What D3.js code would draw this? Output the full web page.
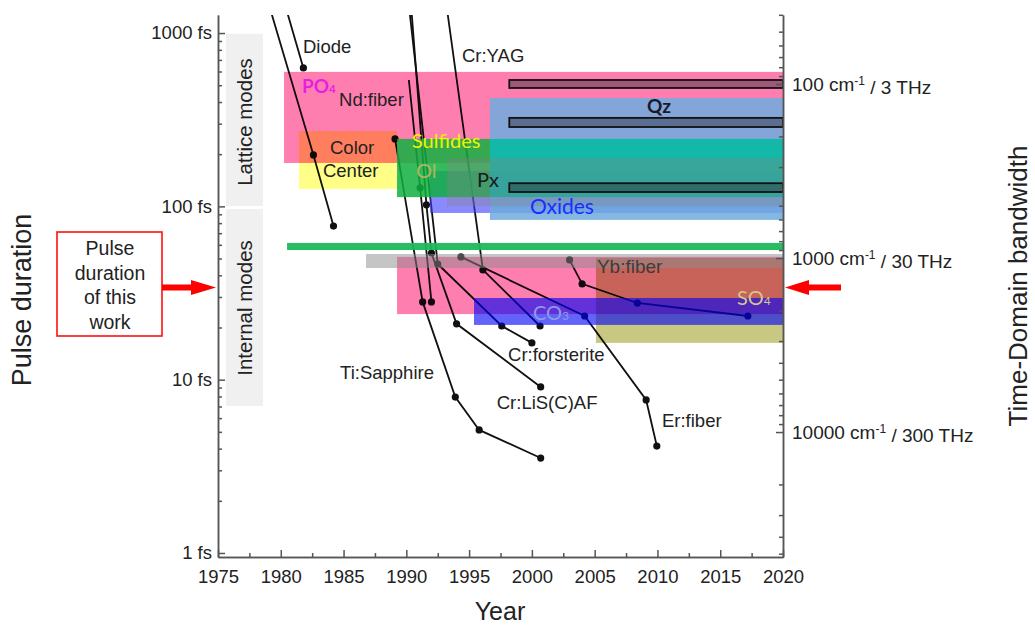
<!DOCTYPE html>
<html>
<head>
<meta charset="utf-8">
<script src="https://cdn.jsdelivr.net/npm/d3@7"></script>
<style>
body{margin:0;background:#fff}
svg text{font-family:"Liberation Sans",Arial,sans-serif;fill:#222}
.cal{font-family:Lato,"Open Sans",sans-serif}
</style>
</head>
<body>
<svg id="chart" width="1035" height="629"></svg>
<script>
// ---- axis ticks ----
var yearTicks = [1975,1980,1985,1990,1995,2000,2005,2010,2015,2020];
var fsTicks = [1,10,100,1000];
var fsTickLabels = ["1 fs","10 fs","100 fs","1000 fs"];
var wnTicks = [100,1000,10000];
var thzLabels = ["3","30","300"];
var thisWork = 34; // fs

// ---- laser development, [year, pulse duration fs] ----
var diode = [[1979.3,2640],[1981.8,629]];
var colorCenter = [[1978.0,2640],[1982.6,198],[1984.2,77]];
var ndFiber = [[1990.2,536],[1991.1,128],[1992.0,28.1]];
var tiSapphire = [[1989.1,245],[1991.3,28.1],[1993.9,7.94],[1995.8,5.13],[2000.7,3.53]];
var crLiSAF = [[1990.1,2640],[1991.6,102],[1992.0,53.8],[1994.0,21.0],[2000.7,9.08]];
var crForsterite = [[1989.8,2640],[1992.5,46.5],[1997.6,20.4],[2000.0,16.3]];
var crYAG = [[1992.7,2640],[1996.1,43.0],[2000.65,20.4]];
var erFiber = [[1994.35,51.1],[2004.2,23.3],[2009.1,7.64],[2009.95,4.14]];
var ybFiber = [[2003.0,49.1],[2004.0,35.7],[2008.4,27.7],[2017.2,23.3]];

// ---- mode bands, [year from, year to, fs low, fs high] ----
var latticeBand = [1975.64,1978.58,100.5,990];
var internalBand = [1975.64,1978.58,7.05,96.6];
var po4Lattice = [1980.26,2020,178,597];
var colorCenterBox = [1981.45,1989.26,126,272];
var oxides = [1991.88,2020,91.6,160];
var qz = [1996.66,2020,83.5,422];
var sulfidesOl = [1989.26,1996.66,113,245];
var sulfidesQz = [1996.66,2020,113,245];
var px = [1993.24,2020,100,190];
var qzBars = [[1998.2,2020,482,536],[1998.2,2020,287,324],[1998.2,2020,121,136]];
var greenBand = [1980.5,2020,56.0,61.5];
var po4Internal = [1989.26,2020,23.9,51.1];
var so4 = [2005.1,2020,16.3,50.4];
var ybBand = [1986.79,2020,44.1,53.1];
var co3 = [1995.39,2020,20.7,29.6];

var svg = d3.select("#chart");
var x = d3.scaleLinear().domain([1975,2020]).range([218,783]);
var y = d3.scaleLog().domain([0.948,1271]).range([557,15]);
var yWn = d3.scaleLog().domain([40.1,52250]).range([15,557]);

function box(g, b, fill, op, blend){
	var r = g.append("rect")
		.attr("x", x(b[0]))
		.attr("y", y(b[3]))
		.attr("width", x(b[1]) - x(b[0]))
		.attr("height", y(b[2]) - y(b[3]))
		.attr("fill", fill)
		.attr("fill-opacity", op)
	if(blend) r.style("mix-blend-mode", blend)
	return r
}

// grey mode bands
box(svg, latticeBand, "#f0f0f0", 1)
box(svg, internalBand, "#f0f0f0", 1)
svg.append("text").attr("transform","translate(252,122) rotate(-90)")
	.attr("text-anchor","middle").style("font-size","20.5px").attr("fill","#333").text("Lattice modes")
svg.append("text").attr("transform","translate(252,308) rotate(-90)")
	.attr("text-anchor","middle").style("font-size","20.5px").attr("fill","#333").text("Internal modes")

// clip
svg.append("clipPath").attr("id","plot").append("rect")
	.attr("x",218).attr("y",15).attr("width",565).attr("height",542)

var plot = svg.append("g").attr("clip-path","url(#plot)")

// laser lines (drawn under the bands)
var lasers = [diode, colorCenter, ndFiber, tiSapphire, crLiSAF, crForsterite, crYAG, erFiber, ybFiber]
var openStart = [diode, colorCenter, ndFiber, crLiSAF, crForsterite, crYAG]
var line = d3.line().x(function(d){ return x(d[0]) }).y(function(d){ return y(d[1]) })
lasers.forEach(function(s){
	plot.append("path").attr("d", line(s))
		.attr("fill","none").attr("stroke","#111").attr("stroke-width",1.8)
	var pts = openStart.indexOf(s) >= 0 ? s.slice(1) : s
	plot.selectAll(null).data(pts).enter().append("circle")
		.attr("cx", function(d){ return x(d[0]) })
		.attr("cy", function(d){ return y(d[1]) })
		.attr("r", 3.6).attr("fill","#111")
})

// lattice mode bands
box(plot, po4Lattice, "#ff7eb0", 1, "multiply")
box(plot, colorCenterBox, "#ffff88", 1, "multiply")
box(plot, oxides, "#3c3cff", 0.6)
box(plot, qz, "#6eacde", 0.85)
box(plot, sulfidesOl, "#10b040", 0.85)
box(plot, sulfidesQz, "#00bba0", 0.85)
box(plot, px, "#808080", 0.35)
qzBars.forEach(function(b){
	box(plot, b, "#2a2a3a", 0.45).attr("stroke","#111").attr("stroke-width",1.8)
})

// internal mode bands
box(plot, greenBand, "#1eb95a", 0.95)
box(plot, po4Internal, "#ff7eb0", 1, "multiply")
box(plot, so4, "#c8c882", 1, "multiply")
box(plot, ybBand, "#8c8c8c", 0.5)
box(plot, co3, "#0000f5", 0.61)

// labels
var labels = [
	["Diode",1981.77,768],["Nd:fiber",1984.64,380],["Cr:YAG",1994.43,681],
	["Color",1983.92,201],["Center",1983.36,148],["Ti:Sapphire",1984.72,10.1],
	["Cr:forsterite",1998.1,12.8],["Cr:LiS(C)AF",1997.2,6.78],["Er:fiber",2010.36,5.33]
]
labels.forEach(function(l){
	svg.append("text").attr("x",x(l[1])).attr("y",y(l[2]))
		.style("font-size","18.5px").text(l[0])
})
svg.append("text").attr("x",x(2005.18)).attr("y",y(41.3))
	.style("font-size","19px").style("fill","#3c3c3c").text("Yb:fiber")

function calLabel(txt, sub, yr, fs, col, size, weight){
	var t = svg.append("text").attr("class","cal").attr("x",x(yr)).attr("y",y(fs))
		.style("font-size",size+"px").style("fill",col).style("font-weight",weight||"normal")
	t.append("tspan").text(txt)
	if(sub) t.append("tspan").style("font-size",(size*0.6)+"px").text(sub)
}
calLabel("PO","4",1981.69,451,"#e81ee0",19,"bold")
calLabel("Sulfides",null,1990.45,217,"#f2f200",20)
calLabel("Ol",null,1990.77,146,"#b4b45a",20)
calLabel("Px",null,1995.63,129,"#1a1a1a",20)
calLabel("Oxides",null,1999.85,90.4,"#1a2cff",21)
calLabel("Qz",null,2009.17,346,"#1a1a2a",19,"bold")
calLabel("SO","4",2016.33,27.0,"#d2c88c",20)
calLabel("CO","3",2000.09,22.1,"#8c9ce6",20)

// axes
var axisCol = "#555"
function styleAxis(g){
	g.selectAll("path,line").attr("stroke",axisCol).attr("stroke-width",1.5)
	g.selectAll("text").style("font-size","18.5px").attr("fill","#222").style("font-family",'"Liberation Sans",Arial,sans-serif')
}
var minorFs = []
;[1,10,100].forEach(function(d){ for(var k=2;k<10;k++) minorFs.push(d*k) })
svg.append("g").attr("transform","translate(218,0)")
	.call(d3.axisLeft(y).tickValues(minorFs).tickSize(-4).tickSizeOuter(0).tickFormat(""))
	.call(styleAxis)
svg.append("g").attr("transform","translate(218,0)")
	.call(d3.axisLeft(y).tickValues(fsTicks).tickSize(-7).tickSizeOuter(0).tickPadding(6)
		.tickFormat(function(d,i){ return fsTickLabels[i] }))
	.call(styleAxis)

var minorYears = yearTicks.slice(0,-1).map(function(d){ return d + 2.5 })
svg.append("g").attr("transform","translate(0,557)")
	.call(d3.axisBottom(x).tickValues(minorYears).tickSize(-4).tickSizeOuter(0).tickFormat(""))
	.call(styleAxis)
svg.append("g").attr("transform","translate(0,557)")
	.call(d3.axisBottom(x).tickValues(yearTicks).tickSize(-7).tickSizeOuter(0).tickPadding(13)
		.tickFormat(d3.format("d")))
	.call(styleAxis)

var minorWn = []
;[10,100,1000,10000].forEach(function(d){ for(var k=2;k<10;k++){ var v=d*k; if(v>=40 && v<=52000) minorWn.push(v) } })
svg.append("g").attr("transform","translate(783,0)")
	.call(d3.axisRight(yWn).tickValues(minorWn).tickSize(-4).tickSizeOuter(0).tickFormat(""))
	.call(styleAxis)
svg.append("g").attr("transform","translate(783,0)")
	.call(d3.axisRight(yWn).tickValues(wnTicks).tickSize(-7).tickSizeOuter(0).tickFormat(""))
	.call(styleAxis)
wnTicks.forEach(function(d,i){
	var t = svg.append("text").attr("x",792).attr("y",yWn(d)).attr("dy","0.35em").style("font-size","19px")
	t.append("tspan").text(d + " cm")
	t.append("tspan").attr("dy","-0.45em").style("font-size","12px").text("-1")
	t.append("tspan").attr("dy","0.45em").text(" / " + thzLabels[i] + " THz")
})

// axis titles
svg.append("text").attr("transform","translate(31,300) rotate(-90)")
	.attr("text-anchor","middle").style("font-size","27px").text("Pulse duration")
svg.append("text").attr("transform","translate(1027,286) rotate(-90)")
	.attr("text-anchor","middle").style("font-size","26px").text("Time-Domain bandwidth")
svg.append("text").attr("x",500).attr("y",620)
	.attr("text-anchor","middle").style("font-size","25px").text("Year")

// this work
var yw = y(thisWork)
svg.append("rect").attr("x",57).attr("y",232).attr("width",105).attr("height",104)
	.attr("fill","#fff").attr("stroke","#ff1010").attr("stroke-width",1.6)
;["Pulse","duration","of this","work"].forEach(function(s,i){
	svg.append("text").attr("x",110).attr("y",255 + i*24.5).attr("text-anchor","middle")
		.style("font-size","19.5px").text(s)
})
function arrow(tip, headBase, tail){
	svg.append("polygon").attr("fill","#ff0000").attr("points",[
		[tip,yw],[headBase,yw-7.5],[headBase,yw-3],[tail,yw-3],
		[tail,yw+3],[headBase,yw+3],[headBase,yw+7.5]
	].map(function(p){ return p.join(",") }).join(" "))
}
arrow(216,191,162)
arrow(785,809,841)
</script>
</body>
</html>
